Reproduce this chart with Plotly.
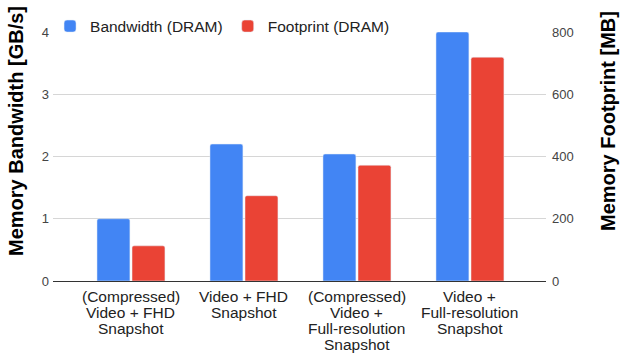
import plotly.graph_objects as go

categories = [
    "(Compressed)<br>Video + FHD<br>Snapshot",
    "Video + FHD<br>Snapshot",
    "(Compressed)<br>Video +<br>Full-resolution<br>Snapshot",
    "Video +<br>Full-resolution<br>Snapshot",
]
bandwidth_gbs = [1.0, 2.2, 2.04, 4.0]
footprint_mb = [113, 274, 372, 719]
series_names = ["Bandwidth (DRAM)", "Footprint (DRAM)"]
left_title = "Memory Bandwidth [GB/s]"
right_title = "Memory Footprint [MB]"

BLUE = "#4285F4"
RED = "#EA4335"
FONT = "Arial, Liberation Sans, sans-serif"

W, H = 620, 353
ML, MR, MT, MB = 53, 74, 32, 72
PW, PH = W - ML - MR, H - MT - MB

fig = go.Figure()
fig.add_trace(go.Bar(x=categories, y=bandwidth_gbs, name=series_names[0],
                     marker_color=BLUE, offsetgroup=1, yaxis="y"))
fig.add_trace(go.Bar(x=categories, y=footprint_mb, name=series_names[1],
                     marker_color=RED, offsetgroup=2, yaxis="y2"))

annotations = []
# multi-line category labels with tight line spacing
for cat in categories:
    for j, line in enumerate(cat.split("<br>")):
        annotations.append(dict(
            x=cat, xref="x", y=0, yref="paper", text=line, showarrow=False,
            xanchor="center", yanchor="middle", yshift=-(15.5 + 16 * j),
            font=dict(size=15.5, color="#222")))
# axis titles
annotations.append(dict(
    text="<b>%s</b>" % left_title, textangle=-90, showarrow=False,
    xref="paper", yref="paper", x=(16 - ML) / PW, y=(H - MB - 131) / PH,
    xanchor="center", yanchor="middle", font=dict(size=20, color="#000")))
annotations.append(dict(
    text="<b>%s</b>" % right_title, textangle=-90, showarrow=False,
    xref="paper", yref="paper", x=(607.5 - ML) / PW, y=(H - MB - 121.5) / PH,
    xanchor="center", yanchor="middle", font=dict(size=20, color="#000")))

fig.update_layout(
    width=W, height=H,
    margin=dict(l=ML, r=MR, t=MT, b=MB, autoexpand=False),
    paper_bgcolor="white", plot_bgcolor="white",
    font=dict(family=FONT, size=13, color="#444"),
    barmode="group", bargap=0.38, bargroupgap=0.06, barcornerradius=2,
    showlegend=True,
    legend=dict(orientation="h", x=-0.006, y=(H - MB - 26.5) / PH,
                xanchor="left", yanchor="middle",
                font=dict(size=15.5, color="#222"), bgcolor="rgba(0,0,0,0)",
                traceorder="normal", itemwidth=30),
    xaxis=dict(range=[-0.69, 3.673], showgrid=False, showline=True,
               linecolor="#333", linewidth=1, ticks="", showticklabels=False),
    yaxis=dict(range=[0, 4], dtick=1, gridcolor="#d6d6d6", zeroline=False,
               showline=False, ticks="", ticklabelstandoff=3,
               tickfont=dict(size=13, color="#444")),
    yaxis2=dict(range=[0, 800], dtick=200, overlaying="y", side="right",
                showgrid=False, zeroline=False, showline=False, ticks="",
                ticklabelstandoff=5, tickfont=dict(size=13, color="#444")),
    annotations=annotations,
)

fig.write_html("out.html", config={"displayModeBar": False},
               post_script="document.body.style.margin='0';")
